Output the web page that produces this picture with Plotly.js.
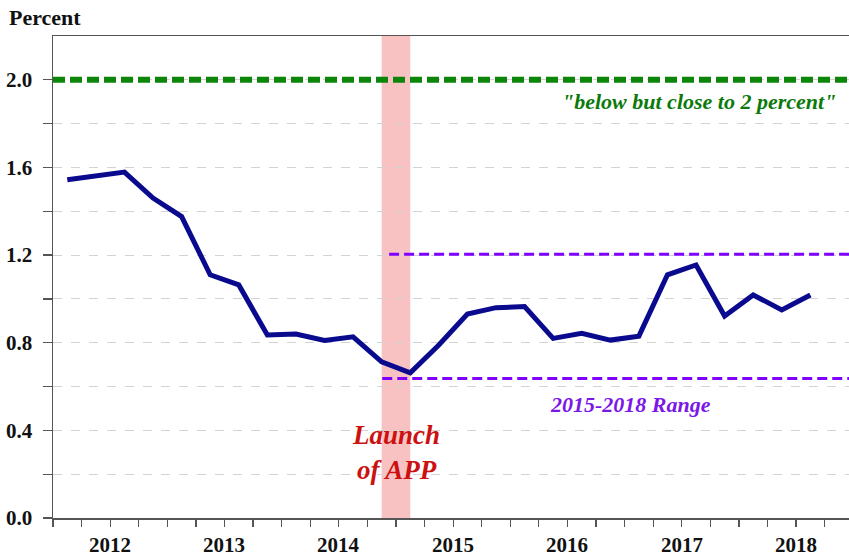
<!DOCTYPE html>
<html>
<head>
<meta charset="utf-8">
<script src="https://cdn.plot.ly/plotly-3.0.1.min.js"></script>
<style>html,body{margin:0;padding:0;background:#fff;}#chart{width:849px;height:557px;}</style>
</head>
<body>
<div id="chart"></div>
<script>
// Quarterly series (quarter labels and values)
const quarters = [
  "2012Q1","2012Q2","2012Q3","2012Q4",
  "2013Q1","2013Q2","2013Q3","2013Q4",
  "2014Q1","2014Q2","2014Q3","2014Q4",
  "2015Q1","2015Q2","2015Q3","2015Q4",
  "2016Q1","2016Q2","2016Q3","2016Q4",
  "2017Q1","2017Q2","2017Q3","2017Q4",
  "2018Q1","2018Q2","2018Q3"
];
const values = [
  1.544, 1.562, 1.579, 1.460,
  1.376, 1.110, 1.064, 0.835,
  0.840, 0.810, 0.827, 0.713,
  0.663, 0.790, 0.931, 0.960,
  0.965, 0.820, 0.843, 0.812,
  0.830, 1.110, 1.155, 0.922,
  1.018, 0.950, 1.018
];
const yearLabels = ["2012","2013","2014","2015","2016","2017","2018"];
const yTickValues = [0.0,0.2,0.4,0.6,0.8,1.0,1.2,1.4,1.6,1.8,2.0];
const yTickLabels = ["0.0","","0.4","","0.8","","1.2","","1.6","","2.0"];
const targetLevel = 2.0;
const rangeHigh = 1.204;
const rangeLow = 0.637;
const appLaunchStart = 2014.875, appLaunchEnd = 2015.125;
const rangeHighStart = 2014.94, rangeLowStart = 2014.88;
const xStart = 2012, xEnd = 2018.963;

function qpos(q){ const y=+q.slice(0,4), n=+q.slice(5); return y + (n-0.5)/4; }
const xq = quarters.map(qpos);
const years = yearLabels.map(Number);
const yearBounds = years.concat([years[years.length-1]+1]);
const quarterBounds = [];
yearBounds.forEach(y=>{ for(let k=0;k<4;k++) quarterBounds.push(y+k/4); });

const serif = "Liberation Serif, Times New Roman, serif";

const traces = [
  {x:[xStart, xEnd+1], y:[targetLevel,targetLevel], mode:"lines",
   line:{color:"#0b860b", width:6, dash:"12px,5px"}, hoverinfo:"skip"},
  {x:[rangeHighStart, xEnd+1], y:[rangeHigh,rangeHigh], mode:"lines",
   line:{color:"#8000ff", width:3, dash:"10px,5px"}, hoverinfo:"skip"},
  {x:[rangeLowStart, xEnd+1], y:[rangeLow,rangeLow], mode:"lines",
   line:{color:"#8000ff", width:3, dash:"10px,5px"}, hoverinfo:"skip"},
  {x:xq, y:values, mode:"lines", line:{color:"#0a0a8e", width:5}}
];

const annotations = yearLabels.map((t,i)=>({
  x: years[i]+0.5, xref:"x", y:0, yref:"paper", yanchor:"top", yshift:-14, borderpad:0,
  text:t, showarrow:false, font:{family:serif, size:21, color:"#111", weight:"bold"}
}));
annotations.push(
  {x:(7-53)/796, xref:"paper", y:1 + (36-18)/482, yref:"paper", text:"Percent", showarrow:false,
   xanchor:"left", yanchor:"middle", font:{family:serif, size:22, color:"#111", weight:"bold"}},
  {x:xEnd-0.1, xref:"x", y:1.9, yref:"y", text:'"below but close to 2 percent"', showarrow:false,
   xanchor:"right", yanchor:"middle", font:{family:serif, size:22, color:"#0b7a0b", weight:"bold", style:"italic"}},
  {x:2017.05, xref:"x", y:0.52, yref:"y", text:"2015-2018 Range", showarrow:false,
   xanchor:"center", yanchor:"middle", font:{family:serif, size:22, color:"#7b17e8", weight:"bold", style:"italic"}},
  {x:2015.0, xref:"x", y:0.30, yref:"y", text:"Launch<br>of APP", showarrow:false,
   xanchor:"center", yanchor:"middle", align:"center",
   font:{family:serif, size:27, color:"#cc1111", weight:"bold", style:"italic"}}
);

const layout = {
  width:849, height:557,
  margin:{l:53, r:0, t:36, b:39, pad:0},
  paper_bgcolor:"#fff", plot_bgcolor:"#fff",
  showlegend:false,
  xaxis:{range:[xStart,xEnd], tickmode:"array", tickvals:yearBounds, ticktext:yearBounds.map(()=>""),
    ticks:"outside", ticklen:12, tickwidth:1.5, tickcolor:"#555",
    minor:{tickmode:"array", tickvals:quarterBounds, ticks:"outside", ticklen:7, tickwidth:1.2, tickcolor:"#555", showgrid:false},
    showgrid:false, zeroline:false, showline:true, linecolor:"#555", linewidth:1.5, mirror:true, fixedrange:true},
  yaxis:{range:[0,2.2], tickmode:"array", tickvals:yTickValues, ticktext:yTickLabels,
    ticks:"outside", ticklen:9, tickwidth:1.2, tickcolor:"#555", ticklabelstandoff:6,
    tickfont:{family:serif, size:21, color:"#111", weight:"bold"},
    showgrid:true, gridcolor:"#d3d3d3", griddash:"dash", gridwidth:1,
    zeroline:false, showline:true, linecolor:"#555", linewidth:1.5, fixedrange:true},
  shapes:[{type:"rect", xref:"x", yref:"paper", x0:appLaunchStart, x1:appLaunchEnd, y0:0, y1:1,
    fillcolor:"#f9c2c2", line:{width:0}, layer:"between"}],
  annotations:annotations
};

Plotly.newPlot("chart", traces, layout, {displayModeBar:false, staticPlot:true});
</script>
</body>
</html>
